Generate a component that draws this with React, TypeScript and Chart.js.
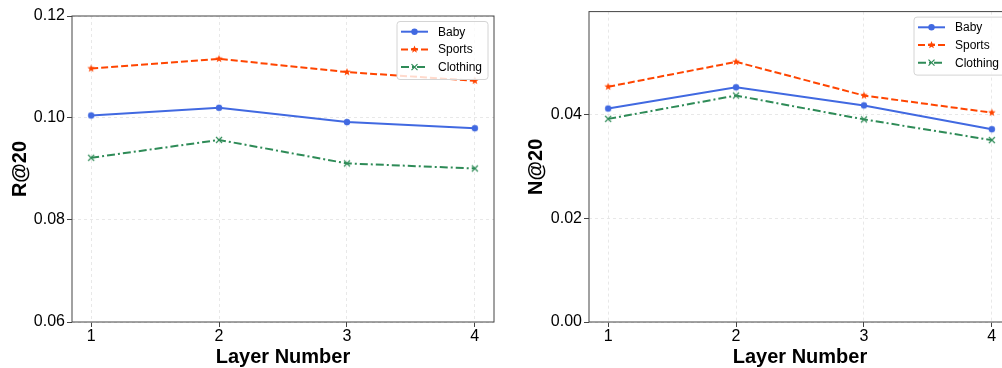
import React, { useEffect, useRef } from 'react';
import { Chart, registerables } from 'chart.js';
Chart.register(...registerables);

const LAYERS = [1, 2, 3, 4];
const SERIES_NAMES = ['Baby', 'Sports', 'Clothing'];
const R20_BABY = [0.1005, 0.102, 0.0992, 0.098];
const R20_SPORTS = [0.1097, 0.1116, 0.109, 0.1073];
const R20_CLOTHING = [0.0922, 0.0957, 0.0911, 0.0901];
const N20_BABY = [0.0412, 0.0453, 0.0418, 0.0372];
const N20_SPORTS = [0.0454, 0.0502, 0.0437, 0.0404];
const N20_CLOTHING = [0.0392, 0.0437, 0.0391, 0.0351];
const R_TICKS = [0.06, 0.08, 0.1, 0.12];
const N_TICKS = [0.0, 0.02, 0.04];
const X_TICKS = [1, 2, 3, 4];
const X_LABEL = 'Layer Number';
const R_LABEL = 'R@20';
const N_LABEL = 'N@20';

const FONT = '"Liberation Sans", Arial, sans-serif';
const STYLES = [
  { color: '#4169E1', dash: [] as number[], marker: 'circle' },
  { color: '#FF4500', dash: [7, 3], marker: 'star' },
  { color: '#2E8B57', dash: [8, 3, 2, 3], marker: 'x' },
];

function drawMarker(ctx: CanvasRenderingContext2D, type: string, x: number, y: number, color: string) {
  ctx.save();
  ctx.setLineDash([]);
  ctx.fillStyle = color;
  ctx.strokeStyle = color;
  if (type === 'circle') {
    ctx.beginPath();
    ctx.arc(x, y, 3.2, 0, Math.PI * 2);
    ctx.fill();
  } else if (type === 'star') {
    ctx.beginPath();
    for (let i = 0; i < 10; i++) {
      const r = i % 2 === 0 ? 4 : 1.7;
      const a = -Math.PI / 2 + (i * Math.PI) / 5;
      const px = x + r * Math.cos(a);
      const py = y + r * Math.sin(a);
      if (i === 0) ctx.moveTo(px, py);
      else ctx.lineTo(px, py);
    }
    ctx.closePath();
    ctx.fill();
  } else {
    ctx.lineWidth = 1.2;
    ctx.beginPath();
    ctx.moveTo(x - 3, y - 3);
    ctx.lineTo(x + 3, y + 3);
    ctx.moveTo(x - 3, y + 3);
    ctx.lineTo(x + 3, y - 3);
    ctx.stroke();
  }
  ctx.restore();
}

function markerCanvas(type: string, color: string) {
  const c = document.createElement('canvas');
  c.width = 10;
  c.height = 10;
  const ctx = c.getContext('2d')!;
  drawMarker(ctx, type, 5, 5, color);
  return c;
}

const framePlugin = {
  id: 'frame',
  afterDatasetsDraw(chart: any) {
    const { ctx, chartArea: a } = chart;
    ctx.save();
    ctx.strokeStyle = '#444';
    ctx.lineWidth = 1;
    ctx.setLineDash([]);
    ctx.strokeRect(a.left, a.top, a.right - a.left, a.bottom - a.top);
    ctx.restore();
  },
};

const legendPlugin = {
  id: 'mplLegend',
  afterDraw(chart: any) {
    const { ctx, chartArea: a } = chart;
    const w = 91;
    const h = 58;
    const x0 = a.right - 6 - w;
    const y0 = a.top + 5.5;
    ctx.save();
    ctx.beginPath();
    const r = 3;
    ctx.moveTo(x0 + r, y0);
    ctx.lineTo(x0 + w - r, y0);
    ctx.quadraticCurveTo(x0 + w, y0, x0 + w, y0 + r);
    ctx.lineTo(x0 + w, y0 + h - r);
    ctx.quadraticCurveTo(x0 + w, y0 + h, x0 + w - r, y0 + h);
    ctx.lineTo(x0 + r, y0 + h);
    ctx.quadraticCurveTo(x0, y0 + h, x0, y0 + h - r);
    ctx.lineTo(x0, y0 + r);
    ctx.quadraticCurveTo(x0, y0, x0 + r, y0);
    ctx.closePath();
    ctx.fillStyle = 'rgba(255,255,255,0.8)';
    ctx.fill();
    ctx.strokeStyle = '#d4d4d4';
    ctx.lineWidth = 1;
    ctx.stroke();
    chart.data.datasets.forEach((ds: any, i: number) => {
      const st = STYLES[i];
      const yy = y0 + 10.2 + i * 17.7;
      ctx.save();
      ctx.strokeStyle = st.color;
      ctx.lineWidth = 2;
      ctx.setLineDash(st.dash);
      ctx.beginPath();
      ctx.moveTo(x0 + 4, yy);
      ctx.lineTo(x0 + 31, yy);
      ctx.stroke();
      ctx.restore();
      drawMarker(ctx, st.marker, x0 + 17.5, yy, st.color);
      ctx.fillStyle = '#000';
      ctx.font = `12px ${FONT}`;
      ctx.textBaseline = 'middle';
      ctx.textAlign = 'left';
      ctx.fillText(ds.label, x0 + 41, yy + 0.5);
    });
    ctx.restore();
  },
};

function buildConfig(
  series: number[][],
  yTicks: number[],
  yMin: number,
  yMax: number,
  yLabel: string,
  yWidth: number,
  yTitlePad: number,
  padTop: number,
  padRight: number
): any {
  const datasets = series.map((vals, i) => {
    const st = STYLES[i];
    return {
      label: SERIES_NAMES[i],
      data: LAYERS.map((l, j) => ({ x: l, y: vals[j] })),
      borderColor: st.color,
      backgroundColor: st.color,
      borderWidth: 2,
      borderDash: st.dash,
      pointStyle: markerCanvas(st.marker, st.color),
      pointRadius: 4,
      tension: 0,
      fill: false,
    };
  });
  return {
    type: 'line',
    data: { datasets },
    options: {
      responsive: false,
      animation: false,
      events: [],
      layout: { padding: { top: padTop, right: padRight, left: 0, bottom: 0 } },
      plugins: { legend: { display: false }, tooltip: { enabled: false } },
      scales: {
        x: {
          type: 'linear',
          min: 0.85,
          max: 4.15,
          afterBuildTicks: (s: any) => {
            s.ticks = X_TICKS.map((v) => ({ value: v }));
          },
          afterFit: (s: any) => {
            s.height = 46;
          },
          ticks: {
            callback: (v: any) => String(v),
            color: '#000',
            font: { family: FONT, size: 16 },
            padding: 0,
            maxRotation: 0,
          },
          grid: {
            color: '#e2e2e2',
            lineWidth: 0.8,
            tickColor: '#444',
            tickLength: 5,
            tickWidth: 1,
            tickBorderDash: [],
          },
          border: { display: false, dash: [3, 3] },
          title: {
            display: true,
            text: X_LABEL,
            color: '#000',
            font: { family: FONT, size: 20, weight: 'bold', lineHeight: 1 },
            padding: { top: 0, bottom: 1 },
          },
        },
        y: {
          type: 'linear',
          min: yMin,
          max: yMax,
          afterBuildTicks: (s: any) => {
            s.ticks = yTicks.map((v) => ({ value: v }));
          },
          afterFit: (s: any) => {
            s.width = yWidth;
          },
          ticks: {
            callback: (v: any) => Number(v).toFixed(2),
            color: '#000',
            font: { family: FONT, size: 16 },
            padding: 2,
          },
          grid: {
            color: '#e2e2e2',
            lineWidth: 0.8,
            tickColor: '#444',
            tickLength: 5,
            tickWidth: 1,
            tickBorderDash: [],
          },
          border: { display: false, dash: [3, 3] },
          title: {
            display: true,
            text: yLabel,
            color: '#000',
            font: { family: FONT, size: 20, weight: 'bold', lineHeight: 1 },
            padding: { top: yTitlePad, bottom: 0 },
          },
        },
      },
    },
    plugins: [framePlugin, legendPlugin],
  };
}

export default function App() {
  const leftRef = useRef<HTMLCanvasElement>(null);
  const rightRef = useRef<HTMLCanvasElement>(null);

  useEffect(() => {
    const left = new Chart(
      leftRef.current!,
      buildConfig([R20_BABY, R20_SPORTS, R20_CLOTHING], R_TICKS, 0.06, 0.12, R_LABEL, 72, 10, 16, 6)
    );
    const right = new Chart(
      rightRef.current!,
      buildConfig([N20_BABY, N20_SPORTS, N20_CLOTHING], N_TICKS, 0, 0.0599, N_LABEL, 89, 26, 11, 9)
    );
    return () => {
      left.destroy();
      right.destroy();
    };
  }, []);

  return (
    <div
      style={{
        position: 'fixed',
        left: 0,
        top: 0,
        width: 1002,
        height: 368,
        overflow: 'hidden',
        background: '#fff',
      }}
    >
      <canvas
        ref={leftRef}
        width={500}
        height={368}
        style={{ position: 'absolute', left: 0, top: 0, width: 500, height: 368 }}
      />
      <canvas
        ref={rightRef}
        width={520}
        height={368}
        style={{ position: 'absolute', left: 500, top: 0, width: 520, height: 368 }}
      />
    </div>
  );
}
